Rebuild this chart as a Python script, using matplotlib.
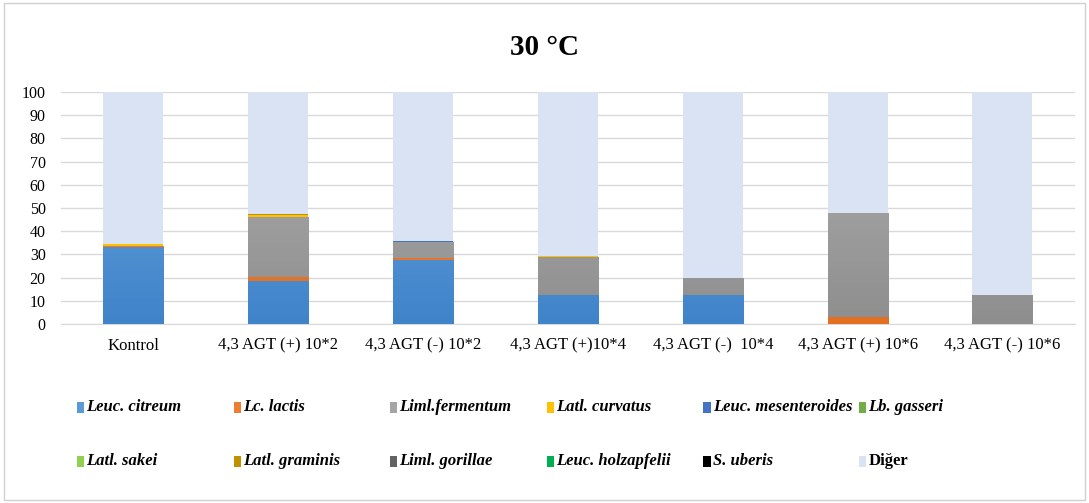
import numpy as np
import matplotlib
matplotlib.use("Agg")
import matplotlib.pyplot as plt
from matplotlib.patches import Rectangle
from matplotlib.colors import LinearSegmentedColormap

categories = ["Kontrol", "4,3 AGT (+) 10*2", "4,3 AGT (-) 10*2", "4,3 AGT (+)10*4",
              "4,3 AGT (-)  10*4", "4,3 AGT (+) 10*6", "4,3 AGT (-) 10*6"]

series_names = ["Leuc. citreum", "Lc. lactis", "Liml.fermentum", "Latl. curvatus",
                "Leuc. mesenteroides", "Lb. gasseri", "Latl. sakei", "Latl. graminis",
                "Liml. gorillae", "Leuc. holzapfelii", "S. uberis", "Diğer"]

leuc_citreum      = [33.0, 18.5, 27.6, 12.5, 12.5, 0.0, 0.0]
lc_lactis         = [0.8, 1.9, 0.7, 0.0, 0.0, 2.9, 0.0]
liml_fermentum    = [0.0, 25.9, 6.9, 16.2, 7.2, 45.1, 12.5]
latl_curvatus     = [0.8, 0.5, 0.0, 0.7, 0.0, 0.0, 0.0]
leuc_mesenteroides= [0.0, 0.0, 0.6, 0.0, 0.0, 0.0, 0.0]
lb_gasseri        = [0.0, 0.0, 0.0, 0.0, 0.0, 0.0, 0.0]
latl_sakei        = [0.0, 0.0, 0.0, 0.0, 0.0, 0.0, 0.0]
latl_graminis     = [0.0, 0.4, 0.0, 0.0, 0.0, 0.0, 0.0]
liml_gorillae     = [0.0, 0.0, 0.0, 0.0, 0.0, 0.0, 0.0]
leuc_holzapfelii  = [0.0, 0.0, 0.0, 0.0, 0.0, 0.0, 0.0]
s_uberis          = [0.0, 0.3, 0.0, 0.0, 0.0, 0.0, 0.0]
diger             = [65.4, 52.5, 64.2, 70.6, 80.3, 52.0, 87.5]

series_values = [leuc_citreum, lc_lactis, liml_fermentum, latl_curvatus, leuc_mesenteroides,
                 lb_gasseri, latl_sakei, latl_graminis, liml_gorillae, leuc_holzapfelii,
                 s_uberis, diger]

colors = ["#5B9BD5", "#ED7D31", "#A5A5A5", "#FFC000", "#4472C4", "#70AD47",
          "#92D050", "#BF9000", "#636363", "#00B050", "#000000", "#DAE3F3"]
gradients = {0: ("#6EA8E0", "#3F83C9"), 1: ("#F08540", "#E36F20"), 2: ("#B0B0B0", "#8E8E8E")}

yticks = list(range(0, 101, 10))

plt.rcParams['font.family'] = ['Liberation Serif', 'DejaVu Serif']

fig = plt.figure(figsize=(10.89, 5.03), dpi=100)
fig.patches.append(Rectangle((0.004, 0.006), 0.992, 0.988, transform=fig.transFigure,
                             facecolor="white", edgecolor="#D0D0D0", linewidth=1.0, zorder=-10))
ax = fig.add_axes([0.056, 0.356, 0.931, 0.461])
ax.set_facecolor("none")

x = np.arange(len(categories))
bottom = np.zeros(len(categories))
width = 0.415
for i, (vals, col) in enumerate(zip(series_values, colors)):
    vals = np.array(vals)
    bars = ax.bar(x, vals, width, bottom=bottom, color=col, zorder=3, linewidth=0)
    if i in gradients:
        cmap = LinearSegmentedColormap.from_list("g", [gradients[i][1], gradients[i][0]])
        grad = np.linspace(0, 1, 256).reshape(-1, 1)
        for b in bars:
            if b.get_height() <= 0:
                continue
            bx = b.get_x()
            im = ax.imshow(grad, cmap=cmap, origin="lower", aspect="auto",
                           extent=[bx, bx + b.get_width(), 0, 100], zorder=3.5)
            im.set_clip_path(b)
    bottom += vals

ax.set_xlim(-0.5, len(categories) - 0.5)
ax.set_ylim(0, 100)
ax.set_yticks(yticks)
ax.set_xticks(x)
ax.set_xticklabels(categories, fontsize=12)
ax.tick_params(axis='y', labelsize=11.5, length=0, pad=11)
ax.tick_params(axis='x', length=0, pad=10)
ax.grid(axis='y', color="#D9D9D9", linewidth=1.0, zorder=0)
for s in ["top", "right", "left"]:
    ax.spines[s].set_visible(False)
ax.spines["bottom"].set_color("#D9D9D9")
ax.spines["bottom"].set_zorder(1)

fig.text(0.5, 0.905, "30 °C", ha="center", va="center", fontsize=21, fontweight="bold")

# legend (2 rows x 6 columns)
col_x = [0.071, 0.215, 0.358, 0.502, 0.646, 0.789]
row_y = [0.190, 0.083]
sq_w, sq_h = 0.0065, 0.022
for i, (name, col) in enumerate(zip(series_names, colors)):
    c, r = i % 6, i // 6
    fig.patches.append(Rectangle((col_x[c], row_y[r] - sq_h / 2), sq_w, sq_h,
                                 transform=fig.transFigure, facecolor=col, edgecolor="none"))
    style = "normal" if name == "Diğer" else "italic"
    fig.text(col_x[c] + sq_w + 0.002, row_y[r], name, ha="left", va="center",
             fontsize=12, fontweight="bold", style=style)

fig.savefig("out.png", dpi=100)
